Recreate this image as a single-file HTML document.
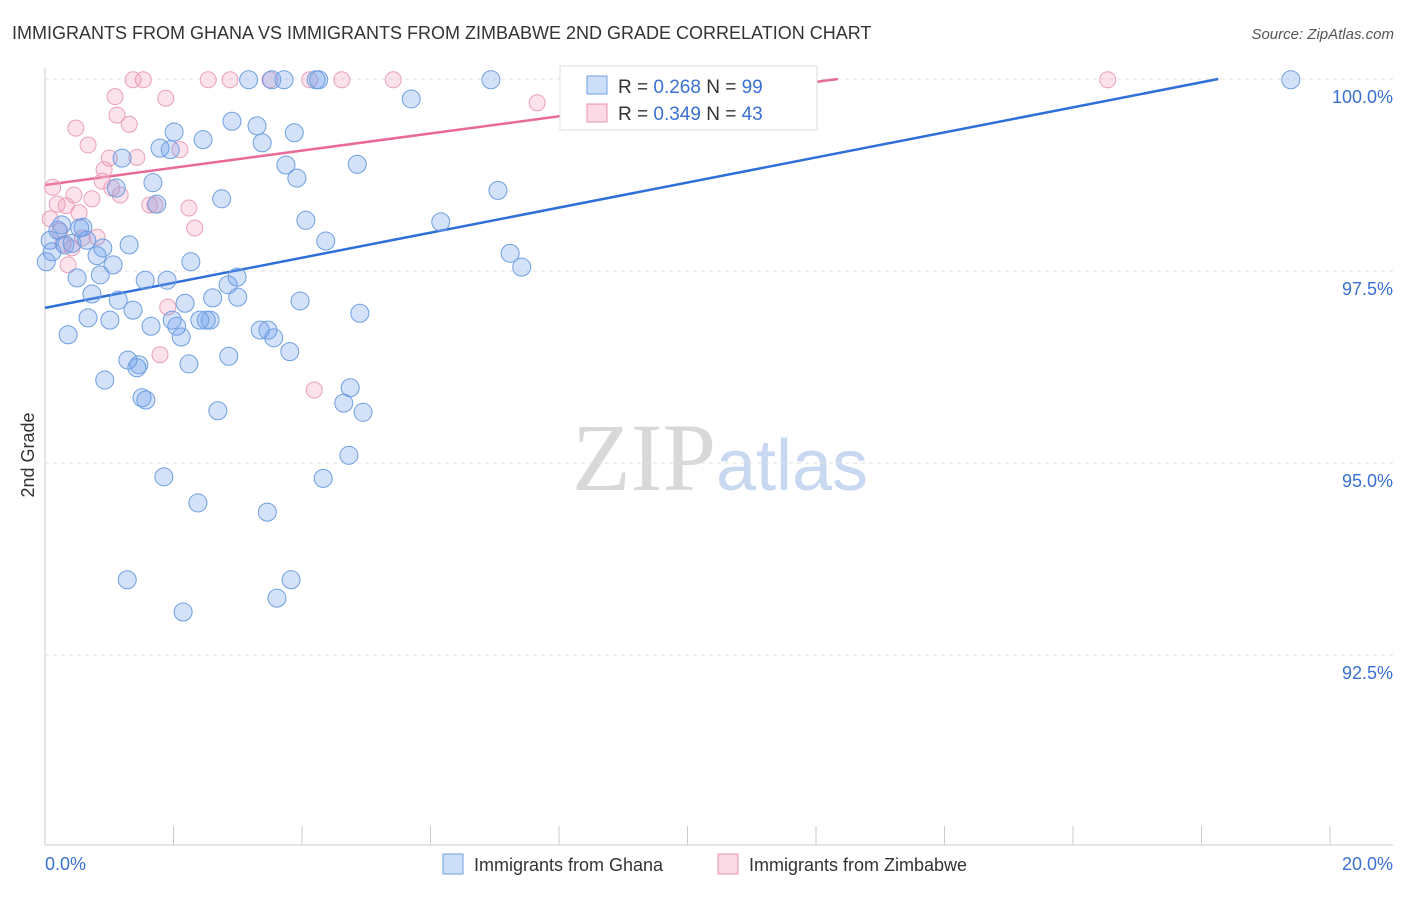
<!DOCTYPE html>
<html><head><meta charset="utf-8"><style>
body{margin:0;background:#fff;font-family:"Liberation Sans",sans-serif;}
svg text{font-family:"Liberation Sans",sans-serif;}
</style></head><body>
<svg id="chart" width="1406" height="892" xmlns="http://www.w3.org/2000/svg">
<text x="12" y="39" font-size="18" fill="#333">IMMIGRANTS FROM GHANA VS IMMIGRANTS FROM ZIMBABWE 2ND GRADE CORRELATION CHART</text>
<text x="1394" y="39" font-size="15" fill="#555" text-anchor="end" font-style="italic">Source: ZipAtlas.com</text>
<text x="720" y="490" font-size="96" text-anchor="middle"><tspan fill="#d8d8d8" font-family="Liberation Serif">ZIP</tspan><tspan fill="#c8d8f0" font-size="72">atlas</tspan></text>
<g id="grid"></g>
<g id="axes"></g>
<g id="lines"></g>
<g id="points"></g>
<text transform="translate(34,455) rotate(-90)" font-size="18" fill="#333" text-anchor="middle">2nd Grade</text>
<g>
<rect x="560" y="66" width="257" height="64" fill="#fff" stroke="#ddd"/>
<rect x="587" y="76" width="20" height="18" fill="rgba(110,160,235,0.35)" stroke="#6f9fe0"/>
<text x="618" y="93" font-size="19" fill="#333">R = <tspan fill="#3a70d0">0.268</tspan>   N = <tspan fill="#3a70d0">99</tspan></text>
<rect x="587" y="104" width="20" height="18" fill="rgba(245,160,190,0.4)" stroke="#e890b0"/>
<text x="618" y="120" font-size="19" fill="#333">R = <tspan fill="#3a70d0">0.349</tspan>   N = <tspan fill="#3a70d0">43</tspan></text>
</g>
<g>
<rect x="443" y="854" width="20" height="20" fill="rgba(110,160,235,0.35)" stroke="#6f9fe0"/>
<text x="474" y="871" font-size="18" fill="#333">Immigrants from Ghana</text>
<rect x="718" y="854" width="20" height="20" fill="rgba(245,160,190,0.4)" stroke="#e890b0"/>
<text x="749" y="871" font-size="18" fill="#333">Immigrants from Zimbabwe</text>
</g>
</svg>
<script>
const blueX=[.08,.11,.20,.26,.31,.36,.42,.50,.54,.59,.65,.67,.73,.81,.86,.90,.93,1.01,1.06,1.11,1.14,1.20,1.28,1.29,1.31,1.37,1.43,1.46,1.51,1.57,1.56,1.65,1.68,1.74,1.79,1.85,1.90,1.95,1.98,2.01,2.05,2.12,2.15,2.18,2.24,2.27,2.38,2.41,2.46,2.51,2.57,2.61,2.69,2.75,2.85,2.86,2.91,2.99,3.00,3.17,3.30,3.35,3.38,3.46,3.47,3.53,3.56,3.61,3.72,3.75,3.81,3.83,3.88,3.92,3.97,4.06,4.22,4.26,4.33,4.37,4.65,4.73,4.75,4.86,4.90,4.95,5.70,6.16,6.94,7.05,7.24,7.42,8.23,9.20,19.39,0.02];
const blueY=[97.90,97.75,98.03,98.10,97.84,96.67,97.86,97.41,98.06,98.07,97.90,96.89,97.20,97.70,97.45,97.80,96.08,96.86,97.58,98.58,97.12,98.97,93.48,96.34,97.84,96.99,96.24,96.28,95.85,95.82,97.38,96.78,98.65,98.37,99.10,94.82,97.38,99.08,96.86,99.31,96.78,96.64,93.06,97.08,96.29,97.62,94.48,96.86,99.21,96.86,96.86,97.15,95.68,98.44,97.32,96.39,99.45,97.42,97.16,99.99,99.39,96.73,99.17,94.36,96.73,99.99,96.63,93.24,99.99,98.88,96.45,93.48,99.30,98.71,97.11,98.16,99.99,99.99,94.80,97.89,95.78,95.10,95.98,98.89,96.95,95.66,99.74,98.14,99.99,98.55,97.73,97.55,99.99,99.99,99.99,97.62];
const pinkX=[.08,.12,.19,.23,.28,.33,.36,.42,.45,.48,.53,.58,.67,.73,.81,.89,.92,1.00,1.04,1.09,1.12,1.17,1.31,1.37,1.43,1.53,1.63,1.71,1.79,1.88,1.91,2.10,2.24,2.33,2.54,2.88,3.50,4.12,4.19,4.62,5.42,7.66,10.44,16.54];
const pinkY=[98.18,98.59,98.37,98.02,97.85,98.35,97.58,97.80,98.49,99.36,98.26,97.93,99.14,98.44,97.94,98.67,98.82,98.97,98.58,99.77,99.53,98.49,99.41,99.99,98.98,99.99,98.36,98.36,96.41,99.75,97.03,99.08,98.32,98.06,99.99,99.99,99.99,99.99,95.95,99.99,99.99,99.69,99.53,99.99];
const blueTrend=[0,97.02,18.26,100];
const pinkTrend=[0,98.62,12.34,100];
const yTicks=[100,97.5,95,92.5];
const yTickLabels=["100.0%","97.5%","95.0%","92.5%"];
const xTicks=[0,2,4,6,8,10,12,14,16,18,20];

const NS="http://www.w3.org/2000/svg";
const X=v=>45+v*64.25, Y=v=>79+(100-v)*76.8;
function mk(p,t,a){const e=document.createElementNS(NS,t);for(const k in a)e.setAttribute(k,a[k]);document.getElementById(p).appendChild(e);return e;}
yTicks.forEach((t,i)=>{
 const l=mk('grid','line',{x1:45,x2:1393,y1:Y(t),y2:Y(t),stroke:'#e2e2e2','stroke-dasharray':'4,4'});
 
 
 const tx=mk('grid','text',{x:1393,y:Y(t)+24,'font-size':18,fill:'#3a70d0','text-anchor':'end'});
 tx.textContent=yTickLabels[i];
 
 
});
mk('axes','line',{x1:45,x2:45,y1:68,y2:845,stroke:'#ccc'});
mk('axes','line',{x1:45,x2:1393,y1:845,y2:845,stroke:'#ccc'});
xTicks.forEach(t=>{const l=mk('axes','line',{x1:X(t),x2:X(t),y1:826,y2:845,stroke:'#ccc'});
 
 });
let a=mk('axes','text',{x:45,y:870,'font-size':18,fill:'#3a70d0'});a.textContent='0.0%';


a=mk('axes','text',{x:1393,y:870,'font-size':18,fill:'#3a70d0','text-anchor':'end'});a.textContent='20.0%';


function dots(xs,ys,fill,stroke,r,name){xs.forEach((x,i)=>{const c=mk('points','circle',{cx:X(x),cy:Y(ys[i]),r:r,fill:fill,stroke:stroke,'stroke-width':1});
 
 });}
dots(pinkX,pinkY,'rgba(245,160,190,0.3)','#eaa0bb',8,'zimbabwe-point');
dots(blueX,blueY,'rgba(110,160,235,0.3)','#6f9fe0',9,'ghana-point');
let t1=mk('lines','line',{x1:X(blueTrend[0]),y1:Y(blueTrend[1]),x2:X(blueTrend[2]),y2:Y(blueTrend[3]),stroke:'#2f6fd8','stroke-width':2.5});


let t2=mk('lines','line',{x1:X(pinkTrend[0]),y1:Y(pinkTrend[1]),x2:X(pinkTrend[2]),y2:Y(pinkTrend[3]),stroke:'#e8699a','stroke-width':2.5});


</script>
</body></html>
